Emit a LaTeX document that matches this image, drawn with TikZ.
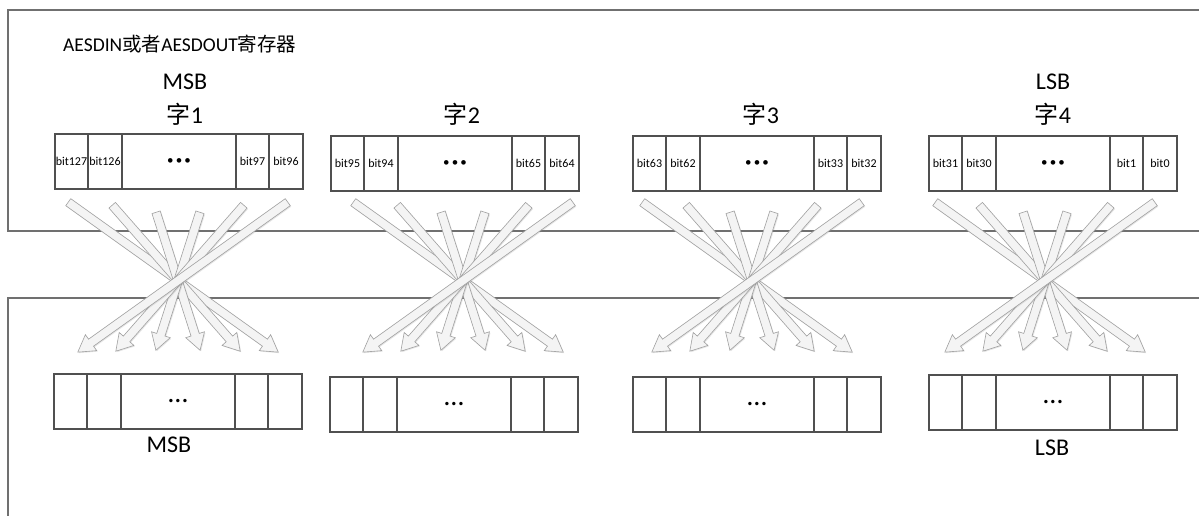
\documentclass[tikz,border=0pt]{standalone}
\usepackage{fontspec}
\setmainfont{Carlito}
\newfontfamily\cjk{Noto Sans CJK SC}
\usetikzlibrary{calc, positioning, shapes.arrows, shadows}

\definecolor{framegray}{HTML}{707070}
\definecolor{cellgray}{HTML}{505050}
\definecolor{arrowline}{HTML}{A0A0A0}
\definecolor{arrowfill}{HTML}{F4F4F4}

\tikzset{
  frame/.style={draw=framegray, line width=1.6pt},
  cell/.style={draw=cellgray, line width=1.1pt, minimum height=55pt, inner sep=0pt, outer sep=0pt, font=\fontsize{12}{13}\selectfont},
  big/.style={font=\fontsize{24}{26}\selectfont, inner sep=0pt},
  bitarrow/.style={single arrow, draw=arrowline, fill=arrowfill, line width=0.6pt,
    text height=0pt, text depth=0pt, inner xsep=0pt, inner ysep=4pt,
    single arrow head extend=5.5pt, single arrow tip angle=62, anchor=tail,
    drop shadow={shadow xshift=1pt, shadow yshift=-1pt, opacity=0.2}},
}
\newcommand{\topdots}{{\fontsize{13}{13}\selectfont •\,•\,•}}
\newcommand{\botdots}{{\fontsize{28}{28}\selectfont …}}

% one 32-bit word: name, x, y, five cell texts
\newcommand{\regword}[8]{%
  \node[cell, minimum width=33pt, anchor=north west] (#1-1) at (#2,#3) {#4};
  \node[cell, minimum width=34pt, right=0pt of #1-1] (#1-2) {#5};
  \node[cell, minimum width=114pt, right=0pt of #1-2] (#1-3) {#6};
  \node[cell, minimum width=33pt, right=0pt of #1-3] (#1-4) {#7};
  \node[cell, minimum width=34pt, right=0pt of #1-4] (#1-5) {#8};
}

\begin{document}
\begin{tikzpicture}[x=1pt, y=-1pt]

  % 1. Page and the two frames
  \useasboundingbox (0,0) rectangle (1199,516);
  \fill[white] (0,0) rectangle (1199,516);
  \draw[frame] (1199,10) -- (8,10) -- (8,231) -- (1199,231);
  \draw[frame] (1199,298) -- (8,298) -- (8,516);

  % 2. Register title and word labels
  \node[font=\fontsize{19.5}{21}\selectfont, anchor=west, inner sep=0pt] (title) at (63,44) {AESDIN{\cjk 或者}AESDOUT{\cjk 寄存器}};
  \node[big] (msbtop) at (185,82) {MSB};
  \node[big] (lsbtop) at (1053,82) {LSB};
  \node[big] (w1) at (185,114) {{\cjk 字}1};
  \node[big] (w2) at (462,114) {{\cjk 字}2};
  \node[big] (w3) at (761,114) {{\cjk 字}3};
  \node[big] (w4) at (1053,114) {{\cjk 字}4};

  % 3. Upper words (with bit numbers)
  \regword{up1}{55}{134}{bit127}{bit126}{\topdots}{bit97}{bit96}
  \regword{up2}{331}{136}{bit95}{bit94}{\topdots}{bit65}{bit64}
  \regword{up3}{633}{136}{bit63}{bit62}{\topdots}{bit33}{bit32}
  \regword{up4}{929}{136}{bit31}{bit30}{\topdots}{bit1}{bit0}

  % 4. Lower words (empty cells)
  \regword{lo1}{54}{374}{}{}{\botdots}{}{}
  \regword{lo2}{330}{377}{}{}{\botdots}{}{}
  \regword{lo3}{633}{377}{}{}{\botdots}{}{}
  \regword{lo4}{929}{375}{}{}{\botdots}{}{}
  \node[big] (msbbot) at (169,445) {MSB};
  \node[big] (lsbbot) at (1052,448) {LSB};

  % 5. Crossing arrows of each word
  \foreach \g/\cx in {1/178, 2/463, 3/752, 4/1045} {
    \foreach \k/\tx/\ty/\hx/\hy in {1/-110/202/100/352, 2/-66/205/62/351, 3/-22/212/22/350,
                                    4/22/212/-22/350, 5/66/205/-62/351, 6/110/202/-100/352} {
      \coordinate (t\g-\k) at (\cx+\tx, \ty);
      \coordinate (h\g-\k) at (\cx+\hx, \hy);
      \path let \p1=($(h\g-\k)-(t\g-\k)$), \n1={atan2(\y1,\x1)}, \n2={veclen(\x1,\y1)} in
        node[bitarrow, minimum height=\n2, rotate=\n1] (a\g-\k) at (t\g-\k) {};
    }
  }

\end{tikzpicture}
\end{document}
